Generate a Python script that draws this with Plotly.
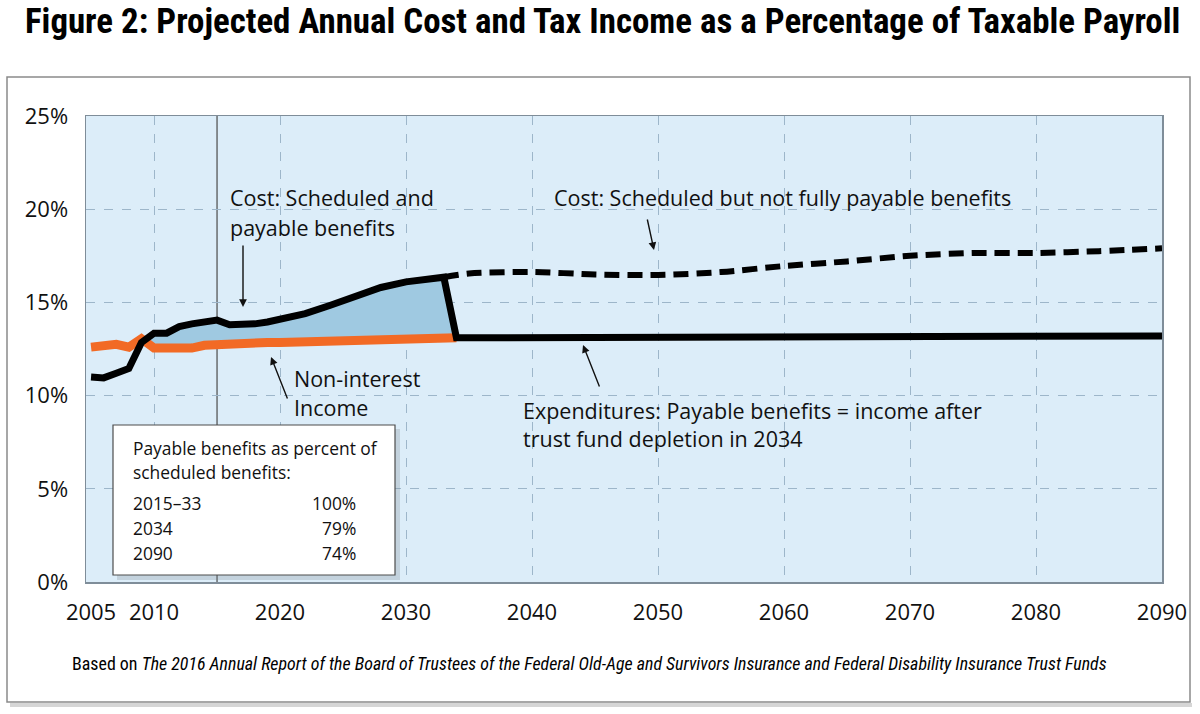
import plotly.graph_objects as go

# ---------------- data ----------------
COST_YEARS = [2005, 2006, 2007, 2008, 2009, 2010, 2011, 2012, 2013, 2014, 2015,
              2016, 2017, 2018, 2019, 2020, 2022, 2024, 2026, 2028, 2030, 2032,
              2033, 2034, 2050, 2070, 2090]
COST_PAYABLE = [11.0, 10.95, 11.2, 11.45, 12.85, 13.35, 13.35, 13.7, 13.85, 13.95, 14.05,
                13.8, 13.8, 13.85, 13.95, 14.1, 14.4, 14.85, 15.35, 15.8, 16.1, 16.3,
                16.35, 13.1, 13.15, 13.2, 13.2]

INCOME_YEARS = [2005, 2006, 2007, 2008, 2009, 2010, 2011, 2012, 2013, 2014, 2015,
                2016, 2017, 2018, 2019, 2020, 2025, 2030, 2034]
INCOME = [12.6, 12.7, 12.75, 12.6, 13.05, 12.55, 12.55, 12.65, 12.55, 12.7, 12.75,
          12.75, 12.8, 12.8, 12.85, 12.85, 12.95, 13.05, 13.1]

SCHED_YEARS = [2033, 2035, 2040, 2045, 2050, 2055, 2060, 2065, 2070, 2075, 2080, 2085, 2090]
SCHED_COST = [16.35, 16.55, 16.63, 16.5, 16.47, 16.63, 16.95, 17.2, 17.5, 17.65, 17.65, 17.75, 17.9]

FILL_START = 2009
DEPLETION_YEAR = 2034
PROJECTION_START = 2015

X_TICKS = [2005, 2010, 2020, 2030, 2040, 2050, 2060, 2070, 2080, 2090]
X_GRID = [2010, 2020, 2030, 2040, 2050, 2060, 2070, 2080]
Y_TICKS = [0, 5, 10, 15, 20, 25]
Y_TICK_TEXT = ["0%", "5%", "10%", "15%", "20%", "25%"]

TITLE = "Figure 2: Projected Annual Cost and Tax Income as a Percentage of Taxable Payroll"
FOOT_PLAIN = "Based on "
FOOT_ITALIC = ("The 2016 Annual Report of the Board of Trustees of the Federal Old-Age and "
               "Survivors Insurance and Federal Disability Insurance Trust Funds")
LBL_COST_SCHED_PAY = ["Cost: Scheduled and", "payable benefits"]
LBL_COST_SCHED = "Cost: Scheduled but not fully payable benefits"
LBL_INCOME = ["Non-interest", "Income"]
LBL_EXPEND = ["Expenditures: Payable benefits = income after", "trust fund depletion in 2034"]
BOX_HEADER = ["Payable benefits as percent of", "scheduled benefits:"]
BOX_PERIODS = ["2015\u201333", "2034", "2090"]
BOX_PCTS = ["100%", "79%", "74%"]

# ---------------- styling ----------------
W, H = 1200, 714
L, R, T, B = 86, 1162, 116, 582
FONT = "'Open Sans', Lato, sans-serif"
NARROW = "'Liberation Sans Narrow', 'Arial Narrow', 'Roboto Condensed', Roboto, sans-serif"
BG = "#dcedf9"
FILL = "#9fc9e1"
ORANGE = "#f26a25"
GRID = "#9db6ca"
FRAME = "#7f8d99"


def px(x):
    return (x - L) / (R - L)


def py(y):
    return (B - y) / (B - T)


fig = go.Figure()

# fill between cost and income (to depletion)
fill_inc_x = [y for y in INCOME_YEARS if FILL_START <= y <= DEPLETION_YEAR]
fill_inc_y = [v for y, v in zip(INCOME_YEARS, INCOME) if FILL_START <= y <= DEPLETION_YEAR]
fill_cost_x = [y for y in COST_YEARS if FILL_START <= y <= DEPLETION_YEAR]
fill_cost_y = [v for y, v in zip(COST_YEARS, COST_PAYABLE) if FILL_START <= y <= DEPLETION_YEAR]
fig.add_trace(go.Scatter(x=fill_inc_x, y=fill_inc_y, mode="lines",
                         line=dict(width=0, color=FILL), hoverinfo="skip"))
fig.add_trace(go.Scatter(x=fill_cost_x, y=fill_cost_y, mode="lines", fill="tonexty",
                         fillcolor=FILL, line=dict(width=0, color=FILL), hoverinfo="skip"))

# income line
fig.add_trace(go.Scatter(x=INCOME_YEARS, y=INCOME, mode="lines",
                         line=dict(color=ORANGE, width=9), hoverinfo="skip"))
# scheduled cost (dashed)
fig.add_trace(go.Scatter(x=SCHED_YEARS, y=SCHED_COST, mode="lines",
                         line=dict(color="black", width=6, dash="15px,8px", shape="spline",
                                   smoothing=0.8),
                         hoverinfo="skip"))
# payable cost (solid)
fig.add_trace(go.Scatter(x=COST_YEARS, y=COST_PAYABLE, mode="lines",
                         line=dict(color="black", width=7), hoverinfo="skip"))

shapes = []
# projection start line
shapes.append(dict(type="line", xref="x", yref="paper", x0=PROJECTION_START, x1=PROJECTION_START,
                   y0=0, y1=1, line=dict(color="#4a4a4a", width=1.2), layer="below"))
# outer frame shadow + frame
shapes.append(dict(type="line", xref="paper", yref="paper", x0=px(10), x1=px(1192),
                   y0=py(705), y1=py(705), line=dict(color="#d6d6d6", width=4)))
shapes.append(dict(type="rect", xref="paper", yref="paper", x0=px(7), x1=px(1190),
                   y0=py(702), y1=py(77), line=dict(color="#8a8a8a", width=1.5)))
# legend box shadow + box
shapes.append(dict(type="rect", xref="paper", yref="paper", x0=px(117), x1=px(400),
                   y0=py(580), y1=py(429), line=dict(width=0),
                   fillcolor="rgba(120,130,140,0.25)"))
shapes.append(dict(type="rect", xref="paper", yref="paper", x0=px(113), x1=px(395),
                   y0=py(575), y1=py(425), line=dict(color="#4d4d4d", width=1.2),
                   fillcolor="white"))

ann = []
ann.append(dict(text="<b>" + TITLE + "</b>", xref="paper", yref="paper", x=px(602), y=py(22),
                xanchor="center", yanchor="middle", showarrow=False,
                font=dict(family=NARROW, size=34.9, color="black")))
ann.append(dict(text=FOOT_PLAIN + "<i>" + FOOT_ITALIC + "</i>", xref="paper", yref="paper",
                x=px(589), y=py(663), xanchor="center", yanchor="middle", showarrow=False,
                font=dict(family=NARROW, size=17.9, color="black")))


def label(text, x, y, size=21.5, anchor="left"):
    ann.append(dict(text=text, xref="paper", yref="paper", x=px(x), y=py(y),
                    xanchor=anchor, yanchor="middle", showarrow=False,
                    font=dict(family=FONT, size=size, color="#111")))


label(LBL_COST_SCHED_PAY[0], 228, 197)
label(LBL_COST_SCHED_PAY[1], 228, 227)
label(LBL_COST_SCHED, 552, 197)
label(LBL_INCOME[0], 292, 378)
label(LBL_INCOME[1], 292, 407)
label(LBL_EXPEND[0], 521, 410)
label(LBL_EXPEND[1], 521, 438)

label(BOX_HEADER[0], 131, 448, size=17.4)
label(BOX_HEADER[1], 131, 472, size=17.4)
for i, (p, v) in enumerate(zip(BOX_PERIODS, BOX_PCTS)):
    yy = 503 + i * 25
    label(p, 131, yy, size=17.4)
    label(v, 358, yy, size=17.4, anchor="right")


def arrow(hx, hy, tx, ty):
    ann.append(dict(text="", xref="paper", yref="paper", x=px(hx), y=py(hy),
                    axref="pixel", ayref="pixel", ax=tx - hx, ay=ty - hy,
                    showarrow=True, arrowhead=2, arrowsize=1.1, arrowwidth=1.4,
                    arrowcolor="#111", standoff=0, startstandoff=0))


arrow(243, 307, 243, 244)
arrow(654, 250, 647, 218)
arrow(271, 357, 288, 400)
arrow(583, 345, 600, 388)

fig.update_layout(
    width=W, height=H,
    margin=dict(l=L, r=W - R, t=T, b=H - B),
    paper_bgcolor="white", plot_bgcolor=BG,
    showlegend=False, hovermode=False,
    shapes=shapes, annotations=ann,
    xaxis=dict(range=[2004.6, 2090], tickmode="array", tickvals=X_TICKS,
               ticktext=[str(t) for t in X_TICKS], showgrid=False, zeroline=False,
               showline=True, linecolor=FRAME, linewidth=1.5, mirror=True,
               ticks="", ticklabelstandoff=10,
               tickfont=dict(family=FONT, size=22, color="#111"),
               minor=dict(tickmode="array", tickvals=X_GRID, showgrid=True,
                          gridcolor=GRID, griddash="dash", gridwidth=1, ticks="")),
    yaxis=dict(range=[0, 25], tickmode="array", tickvals=Y_TICKS, ticktext=Y_TICK_TEXT,
               showgrid=True, gridcolor=GRID, griddash="dash", gridwidth=1,
               zeroline=False, showline=True, linecolor=FRAME, linewidth=1.5, mirror=True,
               ticks="", ticklabelstandoff=12,
               tickfont=dict(family=FONT, size=22, color="#111")),
)

fig.write_html("out.html", config={"displayModeBar": False, "staticPlot": True},
               post_script="document.body.style.margin='0px';")
